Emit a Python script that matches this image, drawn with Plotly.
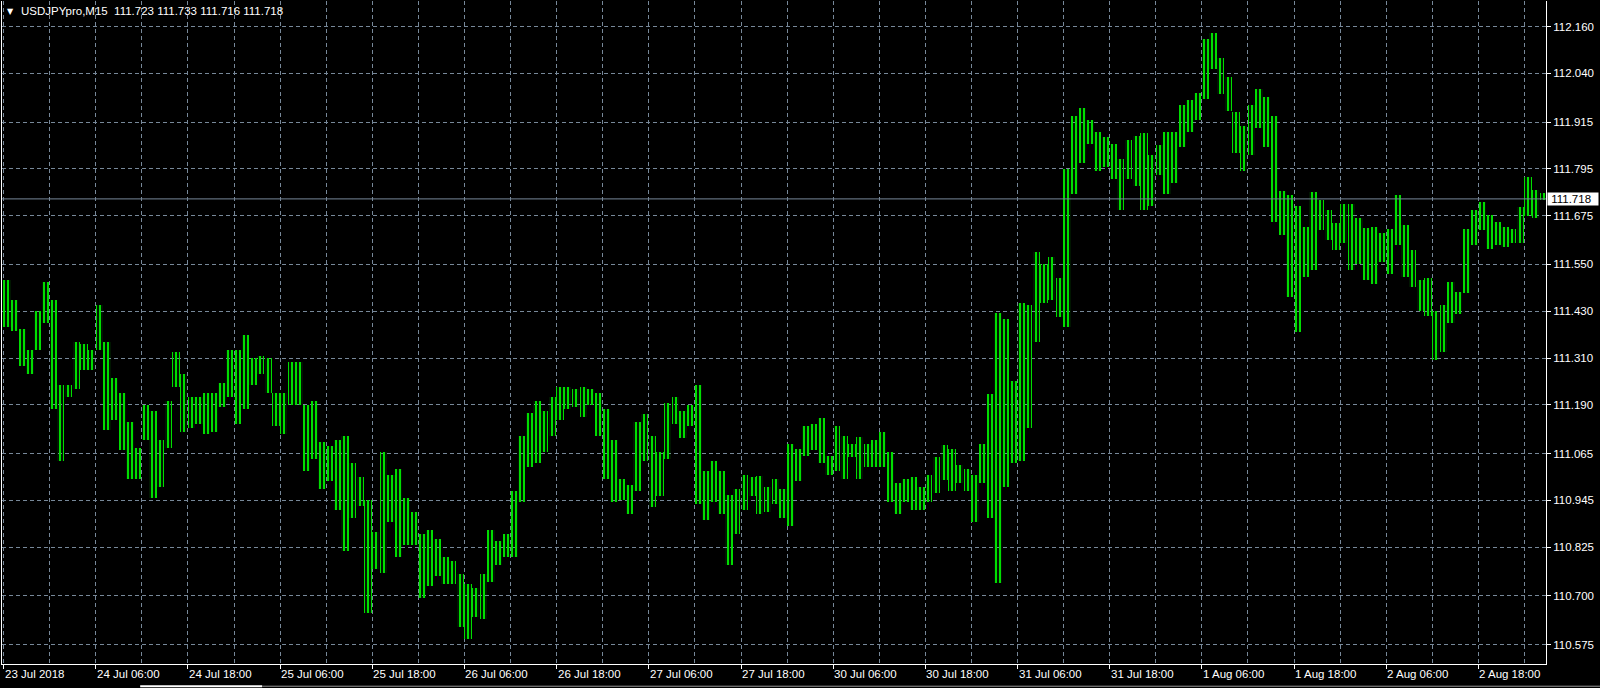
import plotly.graph_objects as go

# hourly trading-hour index (0 = 23 Jul 18:00), high / low
highs = [111.511,111.46,111.385,111.33,111.43,111.505,111.458,111.24,111.24,111.35,
         111.345,111.33,111.445,111.35,111.26,111.22,111.145,111.08,111.19,111.175,
         111.10,111.20,111.325,111.27,111.21,111.21,111.22,111.22,111.245,111.33,
         111.33,111.37,111.31,111.315,111.31,111.22,111.22,111.30,111.30,111.19,
         111.20,111.095,111.085,111.10,111.11,111.04,111.005,110.945,110.865,111.07,
         111.01,111.025,110.95,110.915,110.86,110.87,110.845,110.80,110.79,110.755,
         110.73,110.72,110.755,110.87,110.84,110.86,110.97,111.11,111.17,111.20,
         111.175,111.21,111.235,111.235,111.23,111.235,111.23,111.22,111.18,111.10,
         111.00,110.985,111.146,111.167,111.11,111.07,111.195,111.21,111.175,111.19,
         111.24,111.02,111.047,111.02,110.96,110.975,111.01,111.005,111.008,110.98,
         111.00,110.975,111.09,111.077,111.137,111.141,111.155,111.06,111.137,111.11,
         111.09,111.107,111.09,111.10,111.12,111.07,110.99,111.00,111.004,110.98,
         111.01,111.055,111.086,111.077,111.035,111.025,111.01,111.09,111.217,111.426,
         111.41,111.25,111.45,111.445,111.582,111.55,111.568,111.515,111.795,111.93,
         111.95,111.92,111.89,111.877,111.86,111.82,111.87,111.88,111.886,111.83,
         111.857,111.89,111.89,111.958,111.972,111.99,112.129,112.143,112.08,112.03,
         111.94,111.905,111.958,112.00,111.98,111.93,111.738,111.727,111.70,111.646,
         111.736,111.715,111.69,111.655,111.705,111.705,111.67,111.644,111.647,111.63,
         111.642,111.727,111.652,111.587,111.51,111.514,111.43,111.445,111.505,111.48,
         111.642,111.69,111.71,111.676,111.66,111.647,111.64,111.698,111.774,111.74,
         111.733]
lows = [111.389,111.38,111.29,111.27,111.33,111.40,111.18,111.047,111.21,111.23,
        111.28,111.28,111.33,111.125,111.15,111.075,111.0,111.0,111.1,110.95,
        110.98,111.08,111.235,111.12,111.13,111.14,111.115,111.12,111.185,111.21,
        111.14,111.18,111.24,111.27,111.22,111.135,111.115,111.19,111.19,111.02,
        111.05,110.975,110.995,110.92,110.815,110.90,110.93,110.655,110.77,110.76,
        110.89,110.80,110.83,110.83,110.695,110.725,110.75,110.73,110.73,110.62,
        110.59,110.645,110.64,110.735,110.78,110.80,110.80,110.94,111.03,111.04,
        111.07,111.11,111.15,111.18,111.185,111.16,111.19,111.11,111.00,110.94,
        110.945,110.91,110.97,111.047,110.928,110.955,111.05,111.14,111.105,111.135,
        110.935,110.895,110.94,110.91,110.78,110.86,110.92,110.955,110.91,110.915,
        110.935,110.90,110.88,110.995,111.06,111.073,111.04,111.01,111.02,111.0,
        111.056,111.0,111.03,111.03,111.03,110.94,110.91,110.94,110.92,110.92,
        110.94,110.965,110.997,110.97,110.99,110.97,110.89,110.99,110.90,110.732,
        110.98,111.04,111.045,111.13,111.35,111.45,111.46,111.415,111.39,111.73,
        111.81,111.86,111.79,111.80,111.77,111.69,111.77,111.75,111.69,111.70,
        111.78,111.73,111.76,111.85,111.89,111.92,111.973,112.05,111.986,111.943,
        111.835,111.79,111.83,111.90,111.85,111.66,111.625,111.467,111.377,111.518,
        111.535,111.638,111.612,111.587,111.604,111.535,111.55,111.51,111.50,111.557,
        111.525,111.60,111.518,111.492,111.43,111.417,111.305,111.325,111.40,111.424,
        111.476,111.60,111.638,111.59,111.60,111.595,111.604,111.604,111.674,111.668,
        111.716]
hours = list(range(len(highs)))

date_labels = ["23 Jul 2018","24 Jul 06:00","24 Jul 18:00","25 Jul 06:00","25 Jul 18:00",
               "26 Jul 06:00","26 Jul 18:00","27 Jul 06:00","27 Jul 18:00","30 Jul 06:00",
               "30 Jul 18:00","31 Jul 06:00","31 Jul 18:00","1 Aug 06:00","1 Aug 18:00",
               "2 Aug 06:00","2 Aug 18:00"]
date_pos = [12 * i for i in range(len(date_labels))]
minor_pos = [6 + 12 * i for i in range(len(date_labels))]

price_ticks = [110.575,110.700,110.825,110.945,111.065,111.190,111.310,111.430,
               111.550,111.675,111.795,111.915,112.040,112.160]
last_price = 111.718
header = "USDJPYpro,M15\u00a0\u00a0111.723 111.733 111.716 111.718"

GREEN = "#00dd00"
GRID = "#778899"
FONT = "Liberation Sans"

fig = go.Figure()
fig.add_trace(go.Bar(
    x=[h + 0.45 for h in hours],
    base=lows,
    y=[hi - lo for hi, lo in zip(highs, lows)],
    width=0.95,
    marker=dict(color="rgba(0,0,0,0)", line=dict(width=0),
                pattern=dict(shape="|", size=4, solidity=0.55, fgcolor=GREEN, fgopacity=1,
                             bgcolor="rgba(0,0,0,0)", fillmode="overlay")),
    hoverinfo="skip",
))

fig.add_shape(type="line", xref="paper", x0=0, x1=1, yref="y", y0=last_price, y1=last_price,
              line=dict(color=GRID, width=1))
# tab strip under the chart window
fig.add_shape(type="line", xref="paper", yref="paper", x0=0.0895, x1=0.1685, y0=-0.0335, y1=-0.0335,
              line=dict(color="white", width=2))
fig.add_shape(type="line", xref="paper", yref="paper", x0=0.1685, x1=1.04, y0=-0.0335, y1=-0.0335,
              line=dict(color="#9a9a9a", width=1))

annotations = []
for p, t in zip(date_pos, date_labels):
    annotations.append(dict(x=p, xref="x", y=0, yref="paper", text=t, showarrow=False,
                            xanchor="left", yanchor="middle", yshift=-10, xshift=-1,
                            font=dict(family=FONT, size=11.5, color="white")))
annotations.append(dict(x=0, xref="paper", y=1, yref="paper", xanchor="left", yanchor="middle",
                        yshift=-10, xshift=3, text="\u25BC", showarrow=False,
                        font=dict(family="DejaVu Sans", size=8, color="white")))
annotations.append(dict(x=0, xref="paper", y=1, yref="paper", xanchor="left", yanchor="middle",
                        yshift=-10, xshift=17, text=header, showarrow=False,
                        font=dict(family=FONT, size=11.5, color="white")))
annotations.append(dict(x=1, xref="paper", y=last_price, yref="y", xanchor="left", yanchor="middle",
                        xshift=1, width=50, height=12, align="left", text=f"\u00a0{last_price:.3f}",
                        showarrow=False, bgcolor="white", borderpad=0,
                        font=dict(family=FONT, size=11.5, color="black")))

fig.update_layout(
    width=1600, height=688,
    margin=dict(l=2, r=54, t=1, b=24),
    paper_bgcolor="black", plot_bgcolor="black",
    showlegend=False, bargap=0,
    annotations=annotations,
    xaxis=dict(range=[-0.21, 200.8], tickvals=date_pos, showticklabels=False,
               ticks="outside", ticklen=4, tickcolor="white",
               showgrid=True, gridcolor=GRID, griddash="4px,3px", gridwidth=1,
               minor=dict(tickvals=minor_pos, showgrid=True, gridcolor=GRID,
                          griddash="4px,3px", gridwidth=1, ticks=""),
               showline=True, linecolor="white", linewidth=1, zeroline=False, fixedrange=True),
    yaxis=dict(range=[110.5255, 112.2254], side="right", tickvals=price_ticks,
               ticktext=[f"{v:.3f}" for v in price_ticks],
               ticks="outside", ticklen=4, tickcolor="white",
               tickfont=dict(family=FONT, size=11.5, color="white"),
               showgrid=True, gridcolor=GRID, griddash="4px,3px", gridwidth=1,
               showline=True, linecolor="white", linewidth=1, mirror=True,
               zeroline=False, fixedrange=True),
)

fig.write_html("out.html", config={"displayModeBar": False},
               post_script="document.body.style.margin='0';document.body.style.background='black';")
